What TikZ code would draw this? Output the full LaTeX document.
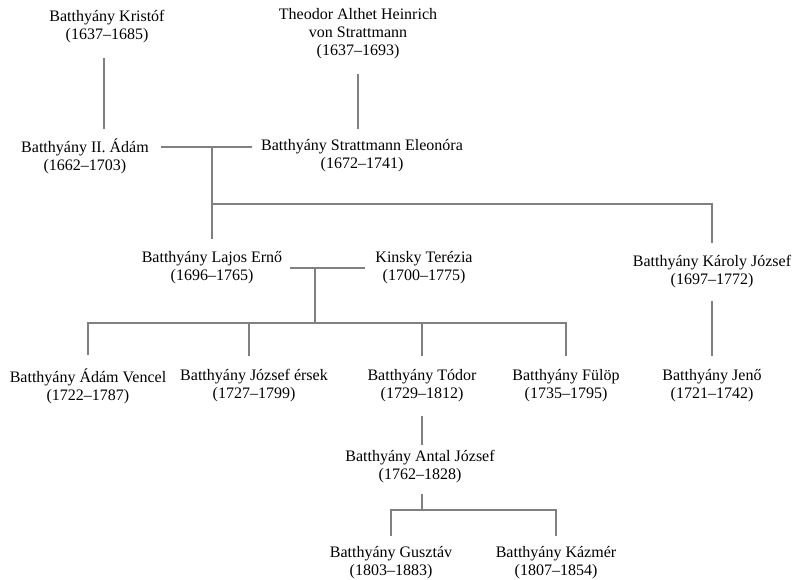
\documentclass[tikz,border=0pt]{standalone}
\usepackage{fontspec}
\setmainfont{Liberation Serif}
\usepackage{tikz}
\usetikzlibrary{positioning}

\tikzset{
	person/.style={align=center, inner sep=0pt, font=\fontsize{12}{13.5}\selectfont},
	link/.style={draw=black!50, line width=1pt}
}

\begin{document}
\begin{tikzpicture}[x=0.75pt, y=-0.75pt]
\useasboundingbox (0,0) rectangle (793,580);

\node[person] (kristof) at (107,27) {Batthyány Kristóf\\(1637–1685)};
\node[person] (theodor) at (358,34) {Theodor Althet Heinrich\\von Strattmann\\(1637–1693)};
\node[person] (adam) at (85,156) {Batthyány II. Ádám\\(1662–1703)};
\node[person] (eleonora) at (362,156) {Batthyány Strattmann Eleonóra\\(1672–1741)};
\node[person] (lajos) at (212,268) {Batthyány Lajos Ernő\\(1696–1765)};
\node[person] (kinsky) at (424,268) {Kinsky Terézia\\(1700–1775)};
\node[person] (karoly) at (712,272) {Batthyány Károly József\\(1697–1772)};
\node[person] (vencel) at (88,386) {Batthyány Ádám Vencel\\(1722–1787)};
\node[person] (jozsef) at (254,386) {Batthyány József érsek\\(1727–1799)};
\node[person] (todor) at (422,386) {Batthyány Tódor\\(1729–1812)};
\node[person] (fulop) at (566,386) {Batthyány Fülöp\\(1735–1795)};
\node[person] (jeno) at (712,386) {Batthyány Jenő\\(1721–1742)};
\node[person] (antal) at (420,467) {Batthyány Antal József\\(1762–1828)};
\node[person] (gusztav) at (391,563) {Batthyány Gusztáv\\(1803–1883)};
\node[person] (kazmer) at (556,563) {Batthyány Kázmér\\(1807–1854)};

% junctions
\coordinate (m1) at (212,147);
\coordinate (b1) at (212,204);
\coordinate (m2) at (315,268);
\coordinate (b2) at (315,323);
\coordinate (b3) at (422,510);

\draw[link, shorten <=11pt, shorten >=7pt] ([xshift=-2.25pt]kristof.south) -- ([xshift=-2.25pt]kristof.south |- adam.north);
\draw[link, shorten <=11pt, shorten >=8pt] (theodor.south -| 358,0) -- (eleonora.north -| 358,0);

\draw[link] ([xshift=9pt]adam.east |- m1) -- ([xshift=-7pt]eleonora.west |- m1);
\draw[link, shorten >=9pt] (m1) -- (lajos.north -| m1);
\draw[link, shorten >=9pt] (b1) -| (karoly.north);

\draw[link] ([xshift=6pt]lajos.east |- m2) -- ([xshift=-8pt]kinsky.west |- m2);
\draw[link] (m2) -- (b2);
\draw[link, shorten >=10pt] (b2) -| (vencel.north);
\draw[link, shorten >=10pt] (b2) -| ([xshift=-3.75pt]jozsef.north);
\draw[link, shorten >=10pt] (b2) -| (todor.north);
\draw[link, shorten >=10pt] (b2) -| (fulop.north);
\draw[link, shorten <=9pt, shorten >=10pt] (karoly.south) -- (jeno.north);

\draw[link, shorten <=10pt, shorten >=4pt] (todor.south) -- (antal.north -| todor.south);
\draw[link, shorten <=8pt] (antal.south -| b3) -- (b3);
\draw[link, shorten >=8pt] (b3) -| (gusztav.north);
\draw[link, shorten >=8pt] (b3) -| (kazmer.north);

\end{tikzpicture}
\end{document}
